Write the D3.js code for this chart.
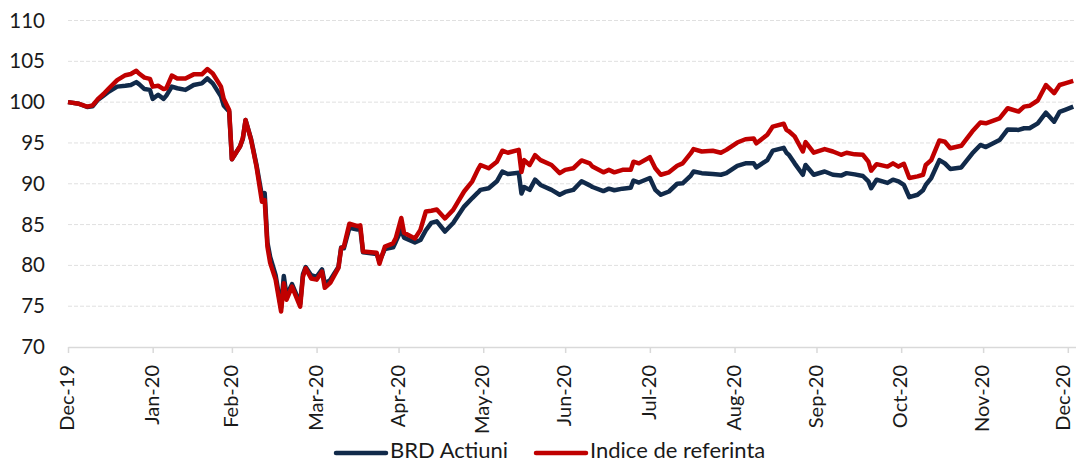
<!DOCTYPE html>
<html>
<head>
<meta charset="utf-8">
<script src="https://cdn.jsdelivr.net/npm/d3@7"></script>
<style>
  body { margin: 0; background: #fff; }
  svg { display: block; font-family: Lato, "Open Sans", sans-serif; }
</style>
</head>
<body>
<svg id="chart" width="1076" height="464"></svg>
<script>
"use strict";

// dates of the readings (base 100 on 31 Dec 2019)
const dates = [
  "2019-12-31","2020-01-04","2020-01-07","2020-01-09","2020-01-11","2020-01-13","2020-01-15","2020-01-18","2020-01-21","2020-01-23","2020-01-25","2020-01-26","2020-01-28","2020-01-30","2020-01-31",
  "2020-02-02","2020-02-04","2020-02-05","2020-02-07","2020-02-09","2020-02-12","2020-02-15","2020-02-18","2020-02-20","2020-02-22","2020-02-25","2020-02-26","2020-02-28","2020-02-29",
  "2020-03-03","2020-03-04","2020-03-05","2020-03-07","2020-03-09","2020-03-11","2020-03-12","2020-03-13","2020-03-14","2020-03-16","2020-03-18","2020-03-19","2020-03-20","2020-03-22","2020-03-25","2020-03-26","2020-03-27","2020-03-29","2020-03-31",
  "2020-04-02","2020-04-03","2020-04-05","2020-04-08","2020-04-09","2020-04-10","2020-04-12","2020-04-15","2020-04-16","2020-04-17","2020-04-22","2020-04-23","2020-04-25","2020-04-28","2020-04-29",
  "2020-05-01","2020-05-02","2020-05-06","2020-05-08","2020-05-10","2020-05-12","2020-05-14","2020-05-17","2020-05-20","2020-05-24","2020-05-27","2020-05-29","2020-05-30",
  "2020-06-02","2020-06-05","2020-06-07","2020-06-09","2020-06-13","2020-06-14","2020-06-15","2020-06-17","2020-06-19","2020-06-21","2020-06-25","2020-06-28","2020-06-30",
  "2020-07-03","2020-07-06","2020-07-09","2020-07-10","2020-07-14","2020-07-16","2020-07-18","2020-07-21","2020-07-24","2020-07-25","2020-07-27","2020-07-31",
  "2020-08-02","2020-08-04","2020-08-07","2020-08-10","2020-08-12","2020-08-15","2020-08-16","2020-08-19","2020-08-23","2020-08-26","2020-08-28",
  "2020-09-01","2020-09-04","2020-09-07","2020-09-08","2020-09-12","2020-09-14","2020-09-18","2020-09-19","2020-09-20","2020-09-22","2020-09-25","2020-09-26","2020-09-29",
  "2020-10-03","2020-10-06","2020-10-09","2020-10-11","2020-10-14","2020-10-17","2020-10-19","2020-10-20","2020-10-22","2020-10-26","2020-10-28","2020-10-30",
  "2020-11-01","2020-11-03","2020-11-06","2020-11-08","2020-11-09","2020-11-11","2020-11-14","2020-11-16","2020-11-18","2020-11-22","2020-11-26","2020-11-29",
  "2020-12-01","2020-12-06","2020-12-09","2020-12-13","2020-12-15","2020-12-17","2020-12-20","2020-12-23","2020-12-26","2020-12-28","2020-12-30","2021-01-02"
];

const brdActiuni = [
  100.0, 99.8, 99.4, 99.5, 100.3, 100.8, 101.3, 101.9, 102.0, 102.1, 102.45, 102.2, 101.6, 101.5, 100.4,
  100.9, 100.4, 100.8, 101.9, 101.7, 101.5, 102.1, 102.3, 102.9, 102.3, 100.7, 99.6, 98.85, 93.0,
  94.6, 95.5, 97.8, 95.5, 92.3, 88.5, 88.85, 82.8, 81.05, 78.8, 74.8, 78.7, 76.3, 77.7, 75.3, 78.9, 79.8, 78.8, 78.6,
  79.5, 77.8, 78.2, 79.8, 82.2, 82.1, 84.6, 84.4, 84.5, 81.6, 81.4, 80.5, 82.0, 82.2, 82.9,
  84.4, 83.4, 82.8, 83.1, 84.3, 85.2, 85.4, 84.15, 85.2, 87.2, 88.25, 88.9, 89.25,
  89.45, 90.3, 91.5, 91.2, 91.35, 88.8, 89.6, 89.25, 90.5, 89.85, 89.25, 88.65, 89.0,
  89.25, 90.3, 89.8, 89.6, 89.1, 89.4, 89.2, 89.4, 89.5, 90.4, 90.15, 90.7,
  89.25, 88.65, 89.05, 90.0, 90.05, 91.0, 91.5, 91.3, 91.2, 91.1, 91.3,
  92.2, 92.5, 92.5, 92.0, 92.9, 94.05, 94.4, 93.8, 93.5, 92.5, 91.1, 92.3, 91.1,
  91.5, 91.1, 91.0, 91.3, 91.15, 90.95, 90.3, 89.45, 90.5, 90.1, 90.5, 90.3,
  89.85, 88.35, 88.65, 89.2, 89.85, 90.7, 92.9, 92.5, 91.8, 92.0, 93.7, 94.75,
  94.5, 95.35, 96.65, 96.6, 96.8, 96.8, 97.4, 98.7, 97.6, 98.8, 99.05, 99.45
];

const indiceReferinta = [
  100.0, 99.8, 99.45, 99.6, 100.4, 101.0, 101.7, 102.7, 103.3, 103.45, 103.85, 103.5, 103.0, 102.85, 101.9,
  102.0, 101.6, 101.7, 103.25, 102.9, 102.9, 103.4, 103.4, 104.05, 103.5, 101.9, 100.4, 99.05, 93.0,
  94.6, 95.6, 97.8, 95.4, 92.1, 87.8, 88.0, 82.3, 80.3, 78.25, 74.35, 77.8, 75.8, 77.4, 74.95, 78.6, 79.65, 78.4, 78.25,
  79.25, 77.25, 77.85, 79.7, 82.1, 82.3, 85.1, 84.8, 84.9, 81.7, 81.55, 80.2, 82.3, 82.7, 83.35,
  85.8, 84.0, 83.3, 84.35, 86.6, 86.7, 86.85, 85.75, 86.8, 89.05, 90.3, 91.7, 92.3,
  91.9, 92.7, 94.05, 93.8, 94.15, 91.45, 92.9, 92.3, 93.5, 92.9, 92.3, 91.3, 91.7,
  91.9, 92.85, 92.5, 92.1, 91.4, 91.7, 91.4, 91.7, 91.7, 92.7, 92.5, 93.25,
  91.9, 91.1, 91.4, 92.2, 92.5, 93.75, 94.25, 93.95, 94.05, 93.8, 94.15,
  95.05, 95.45, 95.55, 94.95, 96.0, 97.0, 97.35, 96.6, 96.4, 95.8, 93.95, 95.1, 93.8,
  94.25, 93.95, 93.55, 93.8, 93.6, 93.55, 92.7, 91.6, 92.4, 92.1, 92.5, 92.1,
  92.45, 90.7, 90.9, 91.1, 92.3, 92.9, 95.3, 95.15, 94.35, 94.65, 96.4, 97.5,
  97.4, 98.0, 99.25, 98.85, 99.45, 99.55, 100.2, 102.1, 101.1, 102.1, 102.3, 102.6
];

const seriesNames = ["BRD Actiuni", "Indice de referinta"];
const seriesColors = ["#112a4a", "#c00000"];
const yTicks = [70, 75, 80, 85, 90, 95, 100, 105, 110];

const svg = d3.select("#chart");
const width = 1076;
const margin = { left: 68, right: 0, top: 20.5, bottom: 117 };
const plotBottom = 464 - margin.bottom;

const parse = d3.utcParse("%Y-%m-%d");
const xDates = dates.map(parse);

const x = d3.scaleUtc()
  .domain([parse("2019-12-31"), parse("2021-01-03")])
  .range([margin.left, width - margin.right]);

const y = d3.scaleLinear()
  .domain([70, 110])
  .range([plotBottom, margin.top]);

// month-end ticks (Dec-19 ... Dec-20)
const xTicks = d3.utcMonth.range(parse("2020-01-01"), parse("2021-01-02"))
  .map(d => d3.utcDay.offset(d, -1));

// horizontal dashed gridlines
svg.append("g")
  .selectAll("line")
  .data(yTicks.filter(v => v > 70))
  .join("line")
  .attr("x1", margin.left)
  .attr("x2", width)
  .attr("y1", d => y(d))
  .attr("y2", d => y(d))
  .attr("stroke", "#e0e0e0")
  .attr("stroke-width", 1)
  .attr("stroke-dasharray", "4,2");

// y axis labels only
const yAxis = svg.append("g")
  .attr("transform", `translate(${margin.left},0)`)
  .call(d3.axisLeft(y).tickValues(yTicks).tickSize(0).tickPadding(23));
yAxis.select(".domain").remove();
yAxis.selectAll("text")
  .attr("font-size", 20.5)
  .attr("font-family", "Lato, sans-serif")
  .attr("fill", "#1a1a1a");

// x axis
const xAxis = svg.append("g")
  .attr("transform", `translate(0,${plotBottom})`)
  .call(d3.axisBottom(x).tickValues(xTicks).tickFormat(d3.utcFormat("%b-%y")).tickSize(6).tickSizeOuter(0));
xAxis.select(".domain").attr("stroke", "#d9d9d9").attr("stroke-width", 1.5);
xAxis.selectAll(".tick line").attr("stroke", "#d9d9d9").attr("stroke-width", 1.5);
xAxis.selectAll("text")
  .attr("font-size", 20)
  .attr("font-family", "Lato, sans-serif")
  .attr("fill", "#1a1a1a")
  .attr("transform", "rotate(-90)")
  .attr("text-anchor", "end")
  .attr("dx", "-9")
  .attr("dy", (d, i) => i === xTicks.length - 1 ? "0.1em" : "0.28em") // keep Dec-20 inside the edge
  .attr("y", 0)
  .attr("x", -9);

// lines
const line = d3.line()
  .x((d, i) => x(xDates[i]))
  .y(d => y(d));

[brdActiuni, indiceReferinta].forEach((values, k) => {
  svg.append("path")
    .datum(values)
    .attr("fill", "none")
    .attr("stroke", seriesColors[k])
    .attr("stroke-width", 4.5)
    .attr("stroke-linejoin", "round")
    .attr("d", line);
});

// legend
const legendPos = [336, 536];
const legend = svg.append("g");
seriesNames.forEach((name, k) => {
  const g = legend.append("g").attr("transform", `translate(${legendPos[k]},450)`);
  g.append("line")
    .attr("x1", 0).attr("x2", 50)
    .attr("y1", 3).attr("y2", 3)
    .attr("stroke", seriesColors[k])
    .attr("stroke-width", 4.5)
    .attr("stroke-linecap", "round");
  g.append("text")
    .attr("x", 54)
    .attr("dy", "0.35em")
    .attr("font-size", 22)
    .attr("fill", "#1a1a1a")
    .text(name);
});
</script>
</body>
</html>
